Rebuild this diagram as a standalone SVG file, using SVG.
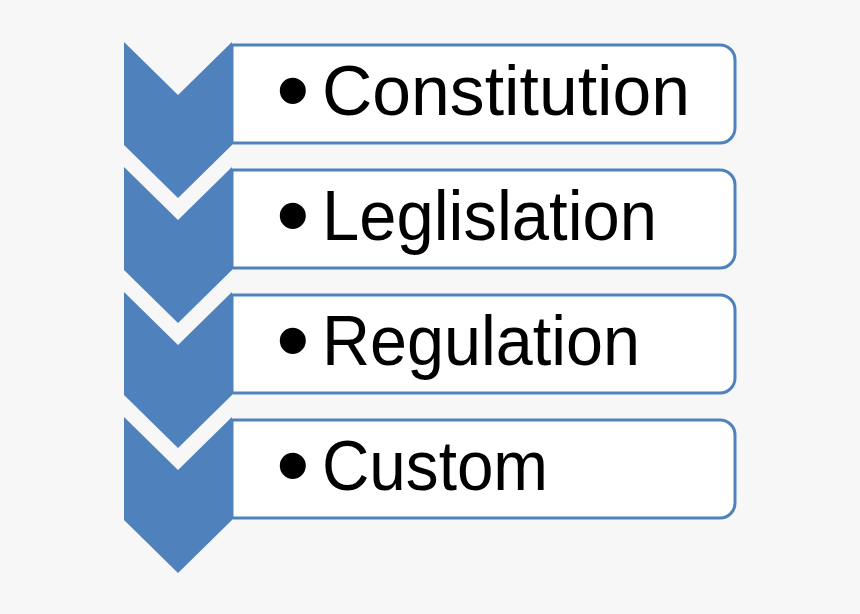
<svg xmlns="http://www.w3.org/2000/svg" width="860" height="614" viewBox="0 0 860 614">
<style>
.chev{fill:#4f81bd}
.box{fill:#ffffff;stroke:#4f81bd;stroke-width:3}
.lbl{font-family:"Liberation Sans",Arial,sans-serif;font-size:70px;fill:#000}
.bul{font-family:"Liberation Sans",Arial,sans-serif;font-size:96px;fill:#000}
</style>
<rect width="860" height="614" fill="#f7f7f7"/>
<g id="node1">
<path class="box" d="M232 45 H720 A15 15 0 0 1 735 60 V128 A15 15 0 0 1 720 143 H232 Z"/>
<path class="chev" d="M124 42 L178 95 L232 42 V145 L178 198 L124 145 Z"/>
<text class="bul" x="276" y="123">•</text>
<text class="lbl" x="322" y="115" textLength="368" lengthAdjust="spacingAndGlyphs">Constitution</text>
</g>
<g id="node2">
<path class="box" d="M232 170 H720 A15 15 0 0 1 735 185 V253 A15 15 0 0 1 720 268 H232 Z"/>
<path class="chev" d="M124 167 L178 220 L232 167 V270 L178 323 L124 270 Z"/>
<text class="bul" x="276" y="248">•</text>
<text class="lbl" x="322" y="240" textLength="335" lengthAdjust="spacingAndGlyphs">Leglislation</text>
</g>
<g id="node3">
<path class="box" d="M232 295 H720 A15 15 0 0 1 735 310 V378 A15 15 0 0 1 720 393 H232 Z"/>
<path class="chev" d="M124 292 L178 345 L232 292 V395 L178 448 L124 395 Z"/>
<text class="bul" x="276" y="373">•</text>
<text class="lbl" x="322" y="365" textLength="318" lengthAdjust="spacingAndGlyphs">Regulation</text>
</g>
<g id="node4">
<path class="box" d="M232 420 H720 A15 15 0 0 1 735 435 V503 A15 15 0 0 1 720 518 H232 Z"/>
<path class="chev" d="M124 417 L178 470 L232 417 V520 L178 573 L124 520 Z"/>
<text class="bul" x="276" y="498">•</text>
<text class="lbl" x="322" y="490" textLength="226" lengthAdjust="spacingAndGlyphs">Custom</text>
</g>
<g id="connectors"></g>
</svg>
